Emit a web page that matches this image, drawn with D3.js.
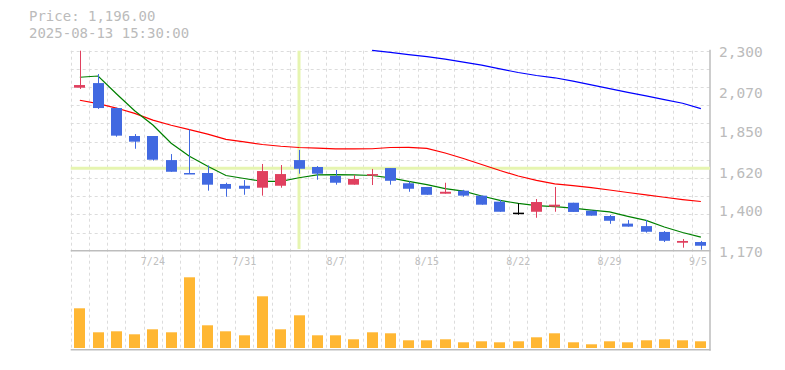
<!DOCTYPE html>
<html><head><meta charset="utf-8">
<script src="https://cdn.jsdelivr.net/npm/d3@7"></script>
<style>body{margin:0;background:#fff}svg{display:block}</style>
</head><body>
<svg id="c" width="785" height="370"></svg>
<script>
const dates = ["7/17","7/18","7/22","7/23","7/24","7/25","7/28","7/29","7/30","7/31","8/1","8/4","8/5","8/6","8/7","8/8","8/12","8/13","8/14","8/15","8/18","8/19","8/20","8/21","8/22","8/25","8/26","8/27","8/28","8/29","9/1","9/2","9/3","9/4","9/5"];
const openV  = [2091,2117,1976,1818,1818,1682,1609,1609,1547,1537,1526,1537,1682,1643,1592,1543,1594,1637,1551,1530,1492,1509,1481,1447,1385,1390,1419,1441,1396,1366,1323,1309,1276,1215,1219];
const closeV = [2106,1976,1820,1786,1684,1616,1607,1543,1520,1520,1620,1603,1633,1605,1554,1575,1603,1565,1520,1486,1503,1481,1430,1390,1385,1445,1430,1389,1368,1339,1306,1277,1226,1225,1198];
const highV  = [2300,2168,1978,1829,1818,1716,1856,1652,1554,1569,1660,1654,1739,1648,1626,1598,1632,1637,1562,1530,1554,1514,1481,1458,1438,1462,1530,1441,1396,1372,1343,1343,1281,1236,1225];
const lowV   = [2084,1971,1814,1746,1679,1616,1606,1509,1475,1486,1481,1526,1605,1571,1543,1543,1541,1543,1503,1486,1492,1475,1430,1390,1373,1356,1390,1389,1368,1322,1306,1272,1219,1187,1176];
const ma5  = [2150,2157,2057,1961,1880,1777,1704,1647,1595,1578,1562,1562,1582,1598,1600,1598,1595,1581,1562,1543,1521,1507,1479,1454,1437,1425,1419,1411,1399,1389,1364,1341,1304,1273,1247];
const ma25 = [2020,2001,1976,1946,1908,1879,1854,1829,1799,1785,1770,1760,1753,1749,1745,1745,1746,1753,1754,1748,1722,1691,1657,1623,1592,1567,1548,1538,1526,1513,1499,1485,1472,1459,1448];
const ma75 = [null,null,null,null,null,null,null,null,null,null,null,null,null,null,null,null,2302,2291,2278,2267,2252,2235,2218,2197,2177,2160,2147,2128,2107,2086,2065,2045,2024,2003,1973];
const volume = [397,157,167,137,187,157,707,227,167,127,517,187,327,127,127,87,157,147,77,77,87,57,67,57,67,107,147,57,37,67,57,77,87,77,67];
const priceTicks = [2300,2070,1850,1620,1400,1170];
const priceTickLabels = ["2,300","2,070","1,850","1,620","1,400","1,170"];
const xLabelDates = ["7/24","7/31","8/7","8/15","8/22","8/29","9/5"];
const infoLines = ["Price: 1,196.00","2025-08-13 15:30:00"];
const crossDate = "8/5";
const crossPrice = 1636;

const svg = d3.select("#c");
const L = 70.7, R = 710, T = 50.7, PB = 250.7, VB = 350.7;
const x = d3.scaleBand().domain(dates).range([L, R]).paddingInner(0.4).paddingOuter(0.2);
const step = x.step();
const y = d3.scaleLinear().domain([1170, 2300]).range([PB, T]);
const yv = d3.scaleLinear().domain([0, 1000]).range([348, 248]);
const cx = d => x(d) + x.bandwidth() / 2;
const font = "'DejaVu Sans Mono', monospace";

// grid
const grid = svg.append("g").attr("stroke", "#dcdcdc").attr("stroke-width", 1).attr("stroke-dasharray", "3,3");
for (let k = 0; k < 35; k++) {
  const gx = Math.round(L + k * step) + 0.5;
  grid.append("line").attr("x1", gx).attr("x2", gx).attr("y1", T).attr("y2", VB);
}
const hStep = (PB - T) / 11;
for (let k = 0; k < 11; k++) {
  const gy = Math.round(T + k * hStep) + 0.5;
  grid.append("line").attr("x1", L).attr("x2", R).attr("y1", gy).attr("y2", gy);
}
// solid axes
const ax = svg.append("g").attr("stroke", "#bdbdbd").attr("stroke-width", 1.5);
ax.append("line").attr("x1", L).attr("x2", R + 0.5).attr("y1", PB).attr("y2", PB);
ax.append("line").attr("x1", L).attr("x2", R + 0.5).attr("y1", VB - 1).attr("y2", VB - 1);
ax.append("line").attr("x1", R).attr("x2", R).attr("y1", T - 1).attr("y2", VB);

// crosshair
svg.append("line").attr("x1", cx(crossDate)).attr("x2", cx(crossDate)).attr("y1", T).attr("y2", 249)
  .attr("stroke", "#e6f5b0").attr("stroke-width", 3);
svg.append("line").attr("x1", L).attr("x2", R).attr("y1", y(crossPrice)).attr("y2", y(crossPrice))
  .attr("stroke", "#e6f5b0").attr("stroke-width", 3);

// clip
svg.append("clipPath").attr("id", "pc").append("rect").attr("x", L).attr("y", T - 2).attr("width", R - L).attr("height", PB - T + 2);

// MAs
const lineGen = d3.line().defined(d => d.v != null).x(d => cx(d.d)).y(d => y(d.v));
const maG = svg.append("g").attr("clip-path", "url(#pc)").attr("fill", "none").attr("stroke-width", 1.2);
[[ma75, "#0000ff"], [ma25, "#ff0000"], [ma5, "#008000"]].forEach(([arr, col]) => {
  maG.append("path").datum(dates.map((d, i) => ({d, v: arr[i]}))).attr("d", lineGen).attr("stroke", col);
});

// candles
const candles = dates.map((d, i) => ({d, o: openV[i], c: closeV[i], h: highV[i], l: lowV[i]}));
const col = c => c.c > c.o ? "#e0405f" : (c.c < c.o ? "#4169e1" : "#000000");
const cg = svg.append("g").attr("clip-path", "url(#pc)");
cg.selectAll("line.w").data(candles).join("line")
  .attr("x1", c => Math.round(cx(c.d)) + 0.5).attr("x2", c => Math.round(cx(c.d)) + 0.5)
  .attr("y1", c => y(c.h)).attr("y2", c => y(c.l)).attr("stroke", col).attr("stroke-width", 1);
cg.selectAll("rect.b").data(candles).join("rect")
  .attr("x", c => Math.round(x(c.d)))
  .attr("width", Math.round(x.bandwidth()))
  .attr("y", c => y(Math.max(c.o, c.c)))
  .attr("height", c => Math.max(1.5, Math.abs(y(c.o) - y(c.c))))
  .attr("fill", col);

// volume
svg.append("g").selectAll("rect").data(dates).join("rect")
  .attr("x", d => Math.round(x(d))).attr("width", Math.round(x.bandwidth()))
  .attr("y", (d, i) => yv(volume[i])).attr("height", (d, i) => yv(0) - yv(volume[i]))
  .attr("fill", "#ffb733");

// y labels
svg.append("g").selectAll("text").data(priceTicks).join("text")
  .attr("x", 719).attr("y", v => y(v) + 2.5).attr("dominant-baseline", "middle")
  .attr("font-family", font).attr("font-size", 14.5).attr("fill", "#bbbbbb")
  .text((v, i) => priceTickLabels[i]);

// x labels
svg.append("g").selectAll("text").data(xLabelDates).join("text")
  .attr("x", d => cx(d)).attr("y", 262).attr("dominant-baseline", "middle").attr("text-anchor", "middle")
  .attr("font-family", font).attr("font-size", 10).attr("fill", "#c0c0c0")
  .text(d => d)
  .each(function () {
    const w = this.getComputedTextLength();
    const xc = +this.getAttribute("x");
    if (xc + w / 2 > R - 3) this.setAttribute("x", R - 3 - w / 2);
  });

// info text
svg.append("g").selectAll("text").data(infoLines).join("text")
  .attr("x", 29).attr("y", (d, i) => 16.5 + i * 17).attr("dominant-baseline", "middle")
  .attr("font-family", font).attr("font-size", 14).attr("fill", "#bbbbbb")
  .text(d => d);
</script>
</body></html>
